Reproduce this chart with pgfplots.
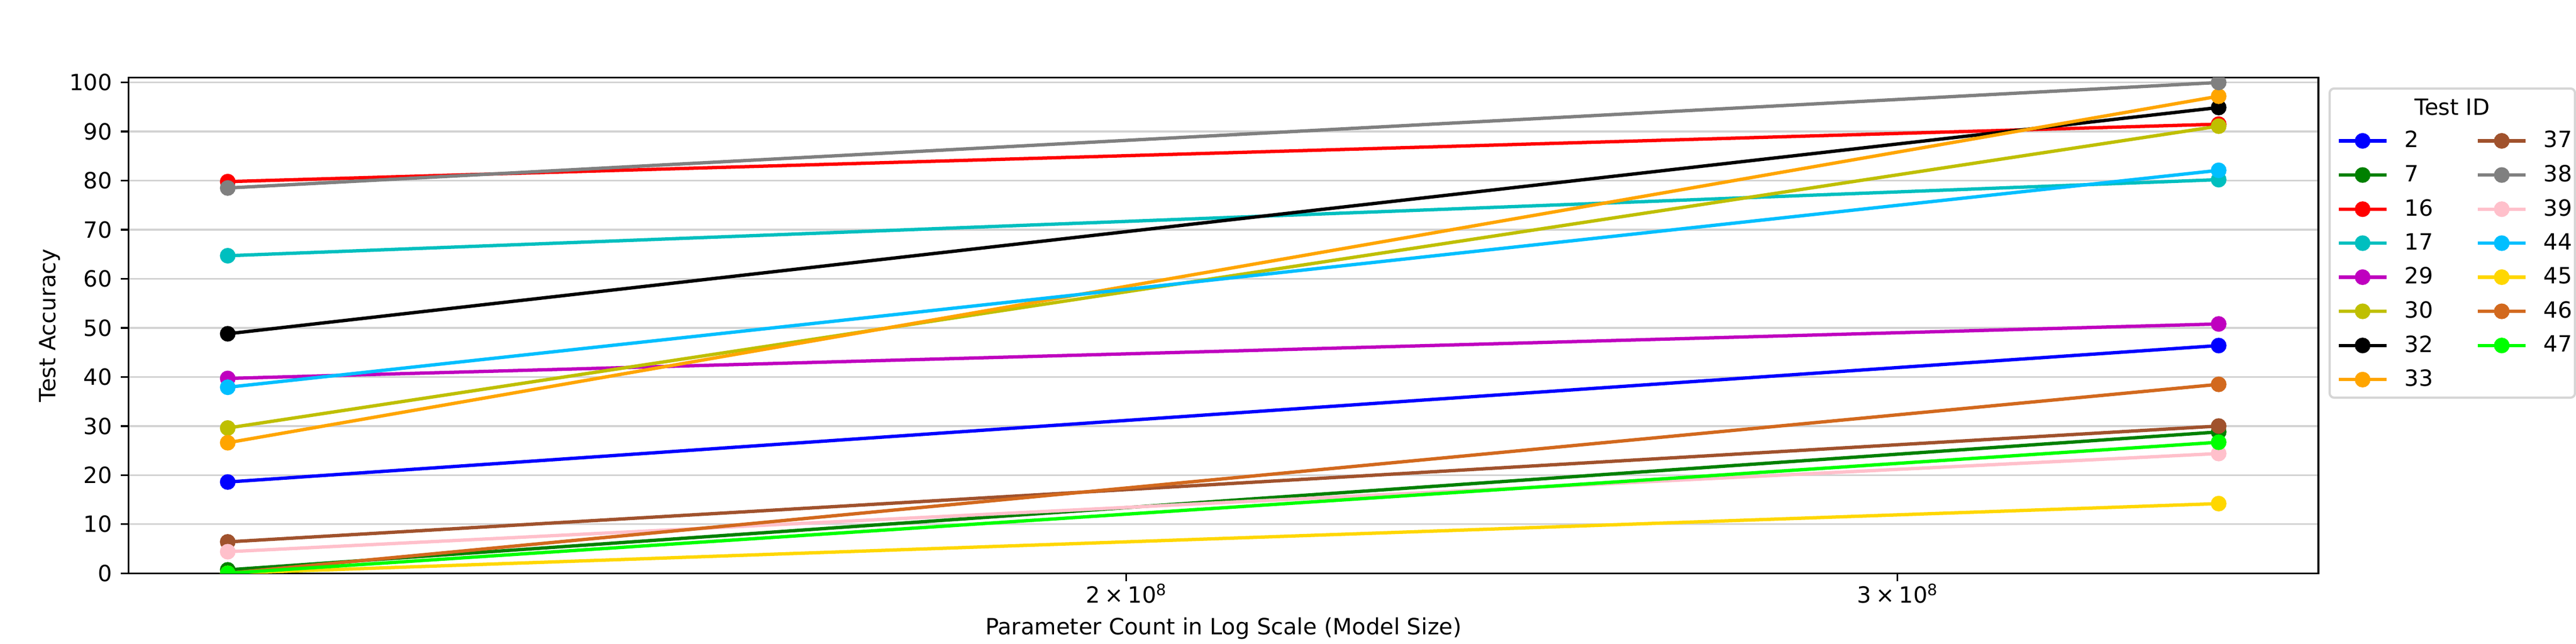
\documentclass[border=0pt]{standalone}
\usepackage{fontspec}
\setmainfont{DejaVu Sans}
\usepackage{pgfplots}
\pgfplotsset{compat=1.18}

\definecolor{cA}{RGB}{0,0,255}
\definecolor{cB}{RGB}{0,128,0}
\definecolor{cC}{RGB}{255,0,0}
\definecolor{cD}{RGB}{0,191,191}
\definecolor{cE}{RGB}{191,0,191}
\definecolor{cF}{RGB}{191,191,0}
\definecolor{cG}{RGB}{0,0,0}
\definecolor{cH}{RGB}{255,165,0}
\definecolor{cI}{RGB}{160,82,45}
\definecolor{cJ}{RGB}{128,128,128}
\definecolor{cK}{RGB}{255,192,203}
\definecolor{cL}{RGB}{0,191,255}
\definecolor{cM}{RGB}{255,215,0}
\definecolor{cN}{RGB}{210,105,30}
\definecolor{cO}{RGB}{0,255,0}
\definecolor{gridgray}{RGB}{211,211,211}
\definecolor{legframe}{RGB}{214,214,214}

\pgfplotsset{ser/.style={color=#1, line width=1.5pt, mark=*, mark size=3pt, mark options={line width=1pt, solid, fill=#1}}}

\newcommand{\sci}[1]{#1\hspace{2pt}×\hspace{2pt}10\raisebox{3.4pt}{\fontsize{7}{7}\selectfont 8}}

% x values are parameter counts in units of 10^8
\begin{document}
\begin{tikzpicture}
\useasboundingbox (-57.53pt,-31.61pt) rectangle ++(1152pt,288pt);
\begin{axis}[
  at={(0,0)}, anchor=south west,
  scale only axis, width=979.3pt, height=221.7pt,
  xmode=log, log basis x=10,
  xmin=1.1834, xmax=3.7440,
  ymin=0, ymax=101,
  xtick={2,3},
  xticklabels={\sci{2},\sci{3}},
  ytick={0,10,20,30,40,50,60,70,80,90,100},
  /pgf/number format/assume math mode=true,
  ymajorgrids, grid style={line width=0.8pt, gridgray},
  axis line style={line width=0.8pt},
  tick align=outside, major tick length=3.5pt,
  tick style={line width=0.8pt, black},
  xtick pos=bottom, ytick pos=left,
  clip marker paths=true,
  xticklabel style={anchor=base, inner sep=0pt, yshift=-9.8pt},
  yticklabel style={anchor=east, inner sep=0pt, xshift=-3.8pt},
  xlabel={Parameter Count in Log Scale (Model Size)},
  ylabel={Test Accuracy},
  every axis x label/.style={at={(axis description cs:0.5,-0.1240)}, anchor=base, inner sep=0pt},
  every axis y label/.style={at={(axis description cs:-0.03605,0.5)}, rotate=90, anchor=center, inner sep=0pt},
  legend columns=2,
  legend image code/.code={\draw[mark repeat=2,mark phase=2,line cap=rect,#1] plot coordinates {(0pt,0pt) (10pt,0pt) (20pt,0pt)};},
  legend style={at={(axis description cs:1.00919,0.89242)}, anchor=north west,
    draw=none, fill=none, inner sep=0pt, outer sep=0pt, row sep=6.35pt,
    nodes={inner sep=0pt, outer sep=0pt}, cells={anchor=west},
    /tikz/every odd column/.style={column sep=8pt},
    /tikz/every even column/.style={column sep=20pt}},
]
\addplot[ser=cA, forget plot] coordinates {(1.2467,18.6) (3.5524,46.4)};
\addplot[ser=cB, forget plot] coordinates {(1.2467,0.7) (3.5524,28.8)};
\addplot[ser=cC, forget plot] coordinates {(1.2467,79.8) (3.5524,91.5)};
\addplot[ser=cD, forget plot] coordinates {(1.2467,64.7) (3.5524,80.2)};
\addplot[ser=cE, forget plot] coordinates {(1.2467,39.7) (3.5524,50.8)};
\addplot[ser=cF, forget plot] coordinates {(1.2467,29.6) (3.5524,91.1)};
\addplot[ser=cG, forget plot] coordinates {(1.2467,48.8) (3.5524,94.9)};
\addplot[ser=cH, forget plot] coordinates {(1.2467,26.6) (3.5524,97.2)};
\addplot[ser=cI, forget plot] coordinates {(1.2467,6.4) (3.5524,30.0)};
\addplot[ser=cJ, forget plot] coordinates {(1.2467,78.5) (3.5524,100.0)};
\addplot[ser=cK, forget plot] coordinates {(1.2467,4.4) (3.5524,24.4)};
\addplot[ser=cL, forget plot] coordinates {(1.2467,37.9) (3.5524,82.1)};
\addplot[ser=cM, forget plot] coordinates {(1.2467,0.0) (3.5524,14.2)};
\addplot[ser=cN, forget plot] coordinates {(1.2467,0.0) (3.5524,38.5)};
\addplot[ser=cO, forget plot] coordinates {(1.2467,0.0) (3.5524,26.7)};

\addlegendimage{ser=cA}\addlegendentry{2}
\addlegendimage{ser=cI}\addlegendentry{37}
\addlegendimage{ser=cB}\addlegendentry{7}
\addlegendimage{ser=cJ}\addlegendentry{38}
\addlegendimage{ser=cC}\addlegendentry{16}
\addlegendimage{ser=cK}\addlegendentry{39}
\addlegendimage{ser=cD}\addlegendentry{17}
\addlegendimage{ser=cL}\addlegendentry{44}
\addlegendimage{ser=cE}\addlegendentry{29}
\addlegendimage{ser=cM}\addlegendentry{45}
\addlegendimage{ser=cF}\addlegendentry{30}
\addlegendimage{ser=cN}\addlegendentry{46}
\addlegendimage{ser=cG}\addlegendentry{32}
\addlegendimage{ser=cO}\addlegendentry{47}
\addlegendimage{ser=cH}\addlegendentry{33}
\end{axis}
\draw[line width=1pt, legframe, rounded corners=2pt] (984.3pt,78.55pt) rectangle (1094pt,216.8pt);
\node[anchor=center, inner sep=0pt] at (1039.15pt,208.5pt) {Test ID};
\end{tikzpicture}
\end{document}
